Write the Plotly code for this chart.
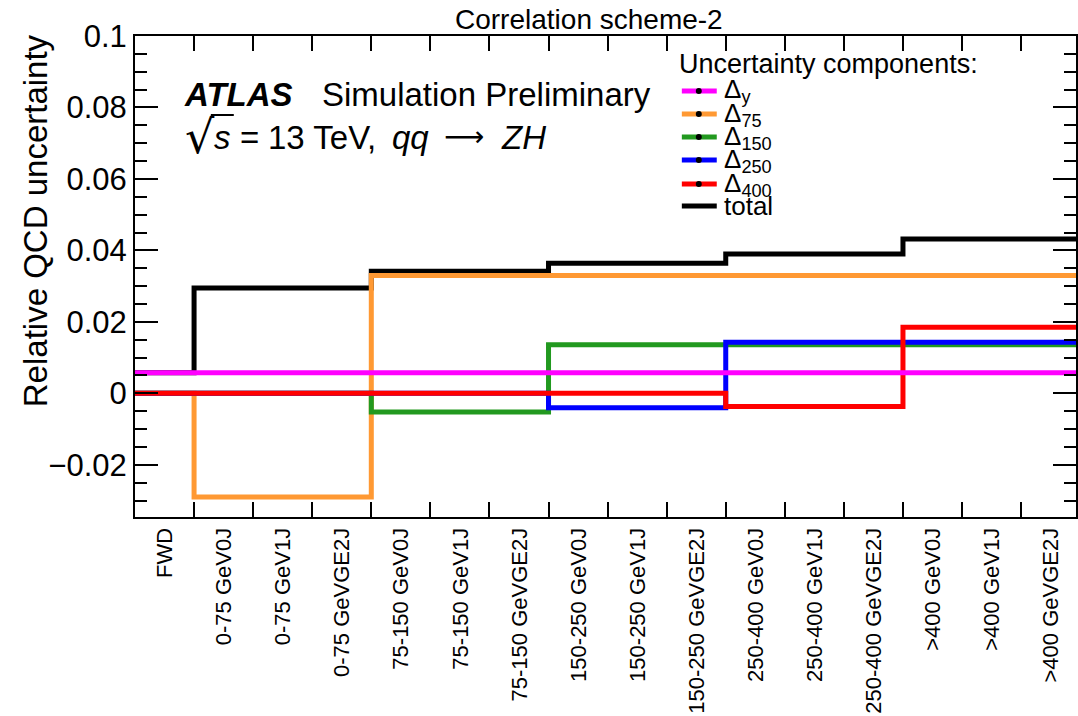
import plotly.graph_objects as go

# Analysis bins (pT(V) ranges x jet multiplicity)
bins = [
    "FWD",
    "0-75 GeV0J", "0-75 GeV1J", "0-75 GeVGE2J",
    "75-150 GeV0J", "75-150 GeV1J", "75-150 GeVGE2J",
    "150-250 GeV0J", "150-250 GeV1J", "150-250 GeVGE2J",
    "250-400 GeV0J", "250-400 GeV1J", "250-400 GeVGE2J",
    ">400 GeV0J", ">400 GeV1J", ">400 GeVGE2J",
]

# Relative QCD uncertainty per bin for each component
delta_y = [0.0058, 0.0058, 0.0058, 0.0058, 0.0058, 0.0058, 0.0058, 0.0058,
           0.0058, 0.0058, 0.0058, 0.0058, 0.0058, 0.0058, 0.0058, 0.0058]
delta_75 = [0.0, -0.029, -0.029, -0.029, 0.033, 0.033, 0.033, 0.033,
            0.033, 0.033, 0.033, 0.033, 0.033, 0.033, 0.033, 0.033]
delta_150 = [0.0, 0.0, 0.0, 0.0, -0.0052, -0.0052, -0.0052, 0.0136,
             0.0136, 0.0136, 0.0136, 0.0136, 0.0136, 0.0136, 0.0136, 0.0136]
delta_250 = [0.0, 0.0, 0.0, 0.0, 0.0, 0.0, 0.0, -0.0040,
             -0.0040, -0.0040, 0.0143, 0.0143, 0.0143, 0.0143, 0.0143, 0.0143]
delta_400 = [0.0, 0.0, 0.0, 0.0, 0.0, 0.0, 0.0, 0.0,
             0.0, 0.0, -0.0037, -0.0037, -0.0037, 0.0185, 0.0185, 0.0185]
total = [0.0058, 0.0295, 0.0295, 0.0295, 0.0342, 0.0342, 0.0342, 0.0364,
         0.0364, 0.0364, 0.0390, 0.0390, 0.0390, 0.0432, 0.0432, 0.0432]

# (legend label, values, colour) in drawing order
series = [
    ("total", total, "#000000"),
    ("Δ<sub>75</sub>", delta_75, "#FF9933"),
    ("Δ<sub>150</sub>", delta_150, "#22991F"),
    ("Δ<sub>250</sub>", delta_250, "#0000FF"),
    ("Δ<sub>400</sub>", delta_400, "#FF0000"),
    ("Δ<sub>y</sub>", delta_y, "#FF00FF"),
]
legend_order = ["Δ<sub>y</sub>", "Δ<sub>75</sub>", "Δ<sub>150</sub>",
                "Δ<sub>250</sub>", "Δ<sub>400</sub>", "total"]

FONT = "Liberation Sans"
W, H = 1078, 716
L, R, T, B = 135, 0, 36, 199
PW, PH = W - L - R, H - T - B
BIN_PX = 59.2  # width of one bin on screen


def px(x):
    return (x - L) / PW


def py(y):
    return (H - B - y) / PH


fig = go.Figure()
edges = list(range(len(bins) + 1))
for name, vals, col in series:
    fig.add_trace(go.Scatter(
        x=edges, y=list(vals) + [vals[-1]], mode="lines", name=name,
        line=dict(color=col, width=5, shape="hv"), showlegend=False,
        hoverinfo="skip",
    ))

annotations = [
    dict(text="Correlation scheme-2", x=px(590), y=py(19), xanchor="center",
         yanchor="middle", font=dict(size=28)),
    dict(text="Relative QCD uncertainty", textangle=-90, x=px(36), y=py(221),
         xanchor="center", yanchor="middle", font=dict(size=33)),
    dict(text="<b><i>ATLAS</i></b>", x=px(182), y=py(95), xanchor="left",
         yanchor="middle", font=dict(size=33)),
    dict(text="Simulation Preliminary", x=px(320), y=py(95), xanchor="left",
         yanchor="middle", font=dict(size=33)),
    # centre-of-mass energy and process line, set piece by piece
    dict(text="√", x=px(183), y=py(137), xanchor="left",
         yanchor="middle", font=dict(size=46, family="DejaVu Sans")),
    dict(text="<i>s</i>", x=px(212), y=py(137), xanchor="left",
         yanchor="middle", font=dict(size=33)),
    dict(text="=", x=px(238), y=py(137), xanchor="left",
         yanchor="middle", font=dict(size=33)),
    dict(text="13 TeV,", x=px(266), y=py(137), xanchor="left",
         yanchor="middle", font=dict(size=33)),
    dict(text="<i>qq</i>", x=px(391), y=py(137), xanchor="left",
         yanchor="middle", font=dict(size=33)),
    dict(text="⟶", x=px(443), y=py(136), xanchor="left",
         yanchor="middle", font=dict(size=28, family="DejaVu Sans")),
    dict(text="<i>ZH</i>", x=px(500), y=py(137), xanchor="left",
         yanchor="middle", font=dict(size=33)),
    dict(text="Uncertainty components:", x=px(678), y=py(64), xanchor="left",
         yanchor="middle", font=dict(size=27)),
]

shapes = [
    # bar of the square-root sign
    dict(type="line", xref="paper", yref="paper",
         x0=px(211), x1=px(234), y0=py(115), y1=py(115),
         line=dict(color="black", width=2)),
]
colours = {name: col for name, _, col in series}
row_y = [91, 114, 137, 160, 184, 206]
for name, ry in zip(legend_order, row_y):
    col = colours[name]
    shapes.append(dict(type="line", xref="paper", yref="paper",
                       x0=px(683), x1=px(718), y0=py(ry), y1=py(ry),
                       line=dict(color=col, width=5)))
    if name != "total":
        shapes.append(dict(type="circle", xref="paper", yref="paper",
                           x0=px(697), x1=px(703), y0=py(ry + 3), y1=py(ry - 3),
                           fillcolor="black", line=dict(width=0)))
    annotations.append(dict(text=name, x=px(723), y=py(ry), xanchor="left",
                            yanchor="middle", font=dict(size=26)))

for a in annotations:
    a.setdefault("xref", "paper")
    a.setdefault("yref", "paper")
    a.setdefault("showarrow", False)
    a["font"].setdefault("family", FONT)
    a["font"]["color"] = "black"

fig.update_layout(
    width=W, height=H, autosize=False,
    margin=dict(l=L, r=R, t=T, b=B, pad=0),
    paper_bgcolor="white", plot_bgcolor="white",
    font=dict(family=FONT, color="black"),
    showlegend=False,
    annotations=annotations,
    shapes=shapes,
    xaxis=dict(
        range=[0, PW / BIN_PX],
        tickmode="array", tickvals=list(range(len(bins))), ticktext=bins,
        tickangle=-90, ticklabelshift=round(BIN_PX / 2),
        ticks="inside", ticklen=15, tickwidth=2, tickcolor="black",
        showline=True, linewidth=2, linecolor="black", mirror="ticks",
        showgrid=False, zeroline=False,
        tickfont=dict(family=FONT, size=22, color="black"),
    ),
    yaxis=dict(
        range=[-0.0346, 0.1],
        tickmode="linear", tick0=0, dtick=0.02,
        ticks="inside", ticklen=23, tickwidth=2, tickcolor="black",
        minor=dict(tickmode="linear", tick0=0, dtick=0.005, ticks="inside",
                   ticklen=12, tickwidth=2, tickcolor="black", showgrid=False),
        showline=True, linewidth=2, linecolor="black", mirror="ticks",
        showgrid=False, zeroline=False,
        tickfont=dict(family=FONT, size=31, color="black"),
    ),
)

fig.write_html("out.html")
